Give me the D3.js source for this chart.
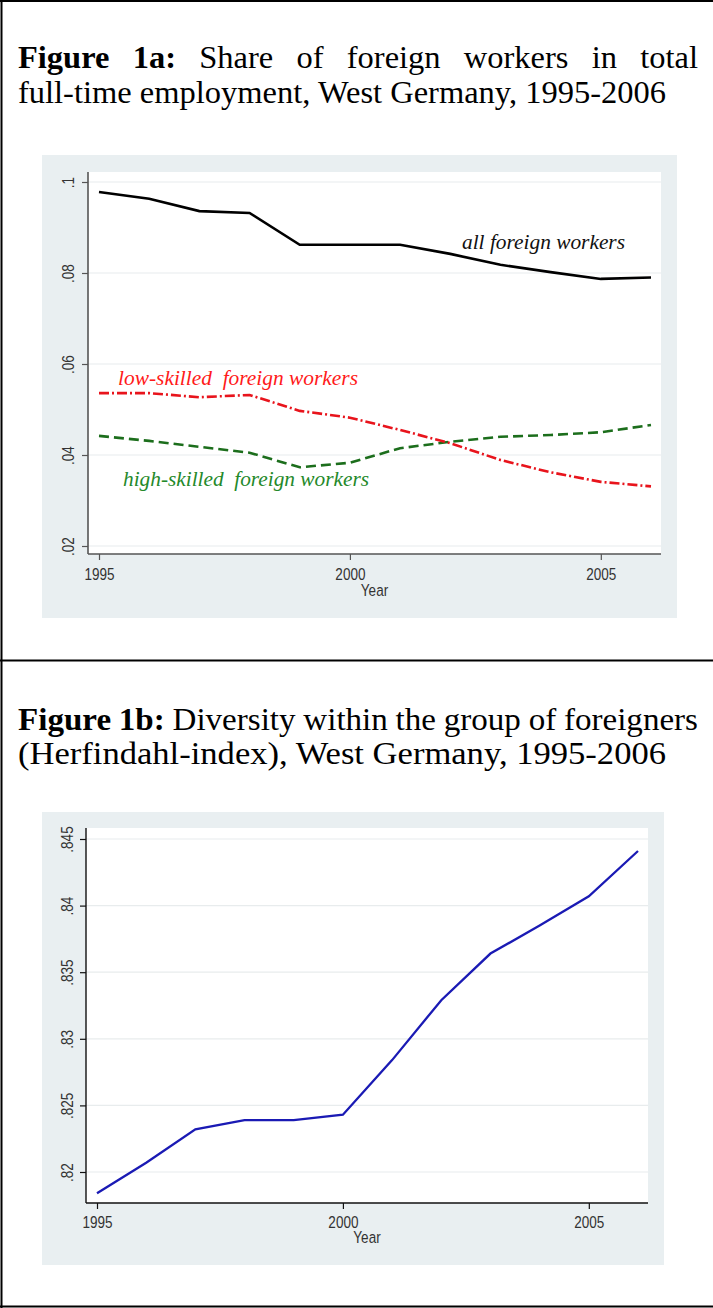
<!DOCTYPE html>
<html><head><meta charset="utf-8">
<script src="https://cdn.jsdelivr.net/npm/d3@7"></script>
<style>body{margin:0;background:#fff}svg{display:block}</style>
</head><body><svg id="c" width="713" height="1308"></svg>
<script>
// ---------- data ----------
const years = [1995,1996,1997,1998,1999,2000,2001,2002,2003,2004,2005,2006];
const allForeign  = [0.0978,0.0963,0.0936,0.0932,0.0862,0.0862,0.0862,0.0842,0.0818,0.0802,0.0787,0.0790];
const lowSkilled  = [0.0536,0.0536,0.0527,0.0532,0.0497,0.0482,0.0455,0.0426,0.0389,0.0362,0.0341,0.0331];
const highSkilled = [0.0442,0.0431,0.0418,0.0405,0.0373,0.0383,0.0415,0.0429,0.0440,0.0444,0.0450,0.0466];
const herfindahl  = [0.8184,0.8207,0.8232,0.8239,0.8239,0.8243,0.8284,0.8329,0.8364,0.8385,0.8407,0.8441];
const xTicks = [1995,2000,2005];
const yTicks1 = [0.02,0.04,0.06,0.08,0.1];
const yTickLabels1 = [".02",".04",".06",".08",".1"];
const yTicks2 = [0.82,0.825,0.83,0.835,0.84,0.845];
const yTickLabels2 = [".82",".825",".83",".835",".84",".845"];
const seriesLabels1 = ["all foreign workers","low-skilled  foreign workers","high-skilled  foreign workers"];
const xTitle = "Year";
const title1 = {bold:["Figure","1a:"], rest:"Share of foreign workers in total", line2:"full-time employment, West Germany, 1995-2006"};
const title2 = {bold:["Figure","1b:"], rest:"Diversity within the group of foreigners", line2:"(Herfindahl-index), West Germany, 1995-2006"};

const svg = d3.select("#c");
const SERIF = "Liberation Serif, Tinos, Times New Roman, serif";
const SANS = "Liberation Sans, Arimo, Arial, sans-serif";
const TFS = 31;

// ---------- page frame ----------
svg.append("line").attr("x1",1.5).attr("x2",1.5).attr("y1",0).attr("y2",1308).attr("stroke","#000").attr("stroke-width",2);
svg.append("line").attr("x1",0).attr("x2",713).attr("y1",1).attr("y2",1).attr("stroke","#000").attr("stroke-width",2);
svg.append("line").attr("x1",0).attr("x2",713).attr("y1",660.5).attr("y2",660.5).attr("stroke","#000").attr("stroke-width",2);
svg.append("line").attr("x1",0).attr("x2",713).attr("y1",1306.5).attr("y2",1306.5).attr("stroke","#000").attr("stroke-width",2);

// ---------- titles (justified first line) ----------
function measure(txt, weight){
  const t = svg.append("text").attr("font-family",SERIF).attr("font-size",TFS).attr("font-weight",weight).text(txt);
  const w = t.node().getComputedTextLength(); t.remove(); return w;
}
function drawTitle(t, y1, y2){
  const x0 = 18, line1W = 680, line2W = 648;
  const nat2 = measure(t.line2, "normal");
  const s2 = line2W / nat2;
  svg.append("text").attr("x",x0).attr("y",y2).attr("font-family",SERIF).attr("font-size",TFS)
     .attr("textLength",line2W).attr("lengthAdjust","spacingAndGlyphs").attr("fill","#000").text(t.line2);
  const words = t.bold.map(w=>({w, b:true})).concat(t.rest.split(" ").map(w=>({w, b:false})));
  words.forEach(d=>{ d.nat = measure(d.w, d.b?"bold":"normal"); });
  const totalNat = d3.sum(words, d=>d.nat);
  const minGap = 0.25*TFS;
  const s1 = Math.min(s2, (line1W - (words.length-1)*minGap)/totalNat);
  const gap = (line1W - totalNat*s1)/(words.length-1);
  let x = x0;
  words.forEach(d=>{
    const len = d.nat*s1;
    svg.append("text").attr("x",x).attr("y",y1).attr("font-family",SERIF).attr("font-size",TFS)
      .attr("font-weight",d.b?"bold":"normal").attr("textLength",len).attr("lengthAdjust","spacingAndGlyphs")
      .attr("fill","#000").text(d.w);
    x += len + gap;
  });
}
drawTitle(title1, 68, 103);
drawTitle(title2, 730, 764);

// ---------- generic chart ----------
function chart(cfg){
  const g = svg.append("g");
  g.append("rect").attr("x",cfg.panel[0]).attr("y",cfg.panel[1]).attr("width",cfg.panel[2]-cfg.panel[0])
    .attr("height",cfg.panel[3]-cfg.panel[1]).attr("fill","#e9eff1");
  g.append("rect").attr("x",cfg.plot[0]).attr("y",cfg.plot[1]).attr("width",cfg.plot[2]-cfg.plot[0])
    .attr("height",cfg.plot[3]-cfg.plot[1]).attr("fill","#fff");
  const x = cfg.x, y = cfg.y;
  g.selectAll(".grid").data(cfg.yTicks).enter().append("line")
    .attr("x1",cfg.plot[0]).attr("x2",cfg.plot[2]).attr("y1",d=>y(d)).attr("y2",d=>y(d))
    .attr("stroke","#e8eced").attr("stroke-width",1.2);
  const yAxis = d3.axisLeft(y).tickValues(cfg.yTicks).tickSize(6).tickFormat((d,i)=>cfg.yLabels[i]);
  const ya = g.append("g").attr("transform",`translate(${cfg.plot[0]},0)`).call(yAxis);
  ya.select(".domain").attr("d",`M0,${cfg.plot[1]}V${cfg.plot[3]}`).attr("stroke",cfg.axisColor).attr("stroke-width",cfg.axisW);
  ya.selectAll(".tick line").attr("stroke",cfg.axisColor).attr("stroke-width",1.2);
  ya.selectAll(".tick text").attr("x",null).attr("dy",null).attr("text-anchor","middle")
    .attr("transform",`translate(${cfg.yLabelX - cfg.plot[0]},0) rotate(-90) scale(0.82,1)`)
    .attr("font-family",SANS).attr("font-size",16.5).attr("fill","#333");
  const xAxis = d3.axisBottom(x).tickValues(xTicks).tickSize(6).tickFormat(d3.format("d"));
  const xa = g.append("g").attr("transform",`translate(0,${cfg.plot[3]})`).call(xAxis);
  xa.select(".domain").attr("d",`M${cfg.plot[0]},0H${cfg.plot[2]}`).attr("stroke",cfg.axisColor).attr("stroke-width",cfg.axisW);
  xa.selectAll(".tick line").attr("stroke",cfg.axisColor).attr("stroke-width",1.2);
  xa.selectAll(".tick text").attr("y",null).attr("dy",null).attr("text-anchor","middle")
    .attr("transform",`translate(0,${cfg.xLabelY - cfg.plot[3]}) scale(0.82,1)`)
    .attr("font-family",SANS).attr("font-size",16.5).attr("fill","#333");
  ya.attr("font-size",null); xa.attr("font-size",null);
  g.append("text").attr("transform",`translate(${(cfg.plot[0]+cfg.plot[2])/2},${cfg.xTitleY}) scale(0.82,1)`)
    .attr("text-anchor","middle").attr("font-family",SANS).attr("font-size",16.5).attr("fill","#333").text(xTitle);
  return g;
}

// ---------- Figure 1a ----------
const x1 = d3.scaleLinear().domain([1995,2006]).range([99,651]);
const y1 = d3.scaleLinear().domain([0.02,0.1]).range([546,182]);
const g1 = chart({panel:[42,155,677,618], plot:[88,172,661,554], x:x1, y:y1, yTicks:yTicks1, yLabels:yTickLabels1,
  yLabelX:74, xLabelY:580, xTitleY:596, axisColor:"#555", axisW:1.6});
const line1 = d3.line().x((d,i)=>x1(years[i])).y(d=>y1(d));
g1.append("path").attr("d",line1(highSkilled)).attr("fill","none").attr("stroke","#1c6e1c").attr("stroke-width",2.6).attr("stroke-dasharray","10,5");
g1.append("path").attr("d",line1(lowSkilled)).attr("fill","none").attr("stroke","#e8141c").attr("stroke-width",2.6).attr("stroke-dasharray","10,3,2,3");
g1.append("path").attr("d",line1(allForeign)).attr("fill","none").attr("stroke","#000").attr("stroke-width",2.6);
const labelPos = [[462,249,163,"#111"],[118,385,240,"#ff1a1a"],[123,486,246,"#24892a"]];
seriesLabels1.forEach((s,i)=>{
  const p = labelPos[i];
  g1.append("text").attr("x",p[0]).attr("y",p[1]).attr("font-family",SERIF).attr("font-style","italic")
    .attr("font-size",20).attr("textLength",p[2]).attr("lengthAdjust","spacingAndGlyphs").attr("fill",p[3])
    .style("white-space","pre").text(s);
});

// ---------- Figure 1b ----------
const x2 = d3.scaleLinear().domain([1995,2006]).range([97,638]);
const y2 = d3.scaleLinear().domain([0.82,0.845]).range([1172,839]);
const g2 = chart({panel:[42,812,664,1265], plot:[86,828,648,1203], x:x2, y:y2, yTicks:yTicks2, yLabels:yTickLabels2,
  yLabelX:73, xLabelY:1228, xTitleY:1243, axisColor:"#111", axisW:1.4});
const line2 = d3.line().x((d,i)=>x2(years[i])).y(d=>y2(d));
g2.append("path").attr("d",line2(herfindahl)).attr("fill","none").attr("stroke","#1a1ab4").attr("stroke-width",2.3);
</script></body></html>
